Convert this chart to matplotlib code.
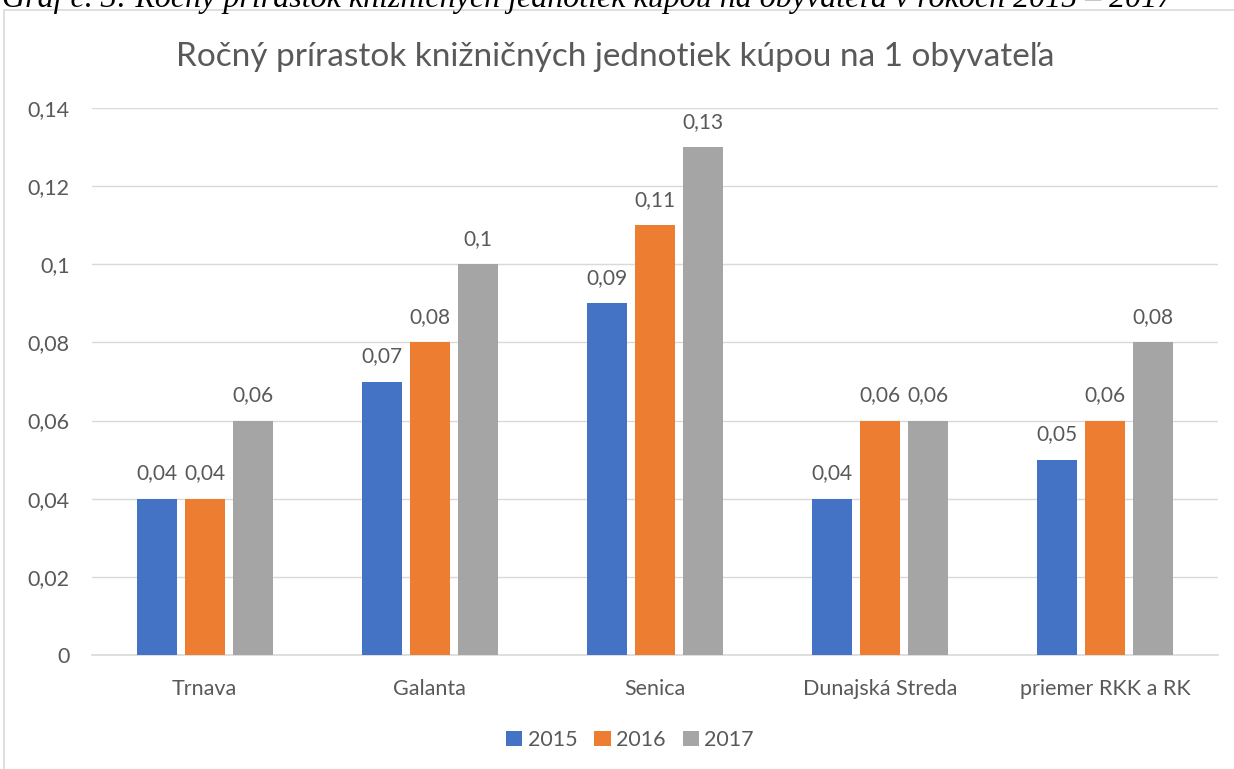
import matplotlib
matplotlib.use("Agg")
import matplotlib.pyplot as plt
import numpy as np
from matplotlib.patches import Rectangle, Patch

categories = ["Trnava", "Galanta", "Senica", "Dunajská Streda", "priemer RKK a RK"]
years = ["2015", "2016", "2017"]
v2015 = [0.04, 0.07, 0.09, 0.04, 0.05]
v2016 = [0.04, 0.08, 0.11, 0.06, 0.06]
v2017 = [0.06, 0.10, 0.13, 0.06, 0.08]
yticks = [0, 0.02, 0.04, 0.06, 0.08, 0.10, 0.12, 0.14]

colors = ["#4472C4", "#ED7D31", "#A5A5A5"]
txt = "#595959"
font = ["Lato", "DejaVu Sans"]
plt.rcParams["font.family"] = font

def fmt(v):
    s = ("%.2f" % v).rstrip("0").rstrip(".")
    return s.replace(".", ",")

fig = plt.figure(figsize=(12.34, 7.69), dpi=100)
W, H = 1234, 769

# outer chart border
fig.patches.append(Rectangle((4 / W, -0.01), 1.2, 1 - 10 / H + 0.01, transform=fig.transFigure,
                             fill=False, edgecolor="#d9d9d9", linewidth=1.2))

# caption at top (cropped in the source image)
fig.text(2 / W, 1 - 7 / H, "Graf č. 3: Ročný prírastok knižničných jednotiek kúpou na obyvateľa v rokoch 2015 – 2017",
         fontsize=23, family=["Liberation Serif", "DejaVu Serif"], style="italic",
         va="baseline", ha="left", color="black")

ax = fig.add_axes([92 / W, 1 - 655 / H, (1218 - 92) / W, (655 - 108) / H])
x = np.arange(len(categories))
bw = 0.178
step = 0.213
series = [v2015, v2016, v2017]
for i, (vals, c, yr) in enumerate(zip(series, colors, years)):
    pos = x + (i - 1) * step
    ax.bar(pos, vals, width=bw, color=c, label=yr, zorder=3)
    for p, v in zip(pos, vals):
        ax.annotate(fmt(v), (p, v), xytext=(0, 11), textcoords="offset points",
                    ha="center", va="bottom", fontsize=15, color=txt)

ax.set_xlim(-0.5, len(categories) - 0.5)
ax.set_ylim(0, 0.14)
ax.set_yticks(yticks)
ax.set_yticklabels([fmt(t) for t in yticks])
ax.set_xticks(x)
ax.set_xticklabels(categories)
ax.tick_params(axis="both", length=0, labelsize=15.5, colors=txt)
ax.tick_params(axis="y", pad=16)
ax.tick_params(axis="x", pad=17)
ax.grid(axis="y", color="#d9d9d9", linewidth=1, zorder=0)
for s in ["top", "right", "left"]:
    ax.spines[s].set_visible(False)
ax.spines["bottom"].set_color("#d9d9d9")
ax.spines["bottom"].set_linewidth(1.2)

fig.text(615 / W, 1 - 57 / H, "Ročný prírastok knižničných jednotiek kúpou na 1 obyvateľa",
         ha="center", va="center", fontsize=24, color=txt)

handles = [Patch(facecolor=c, label=y) for c, y in zip(colors, years)]
fig.legend(handles=handles, loc="center", bbox_to_anchor=(630 / W, 1 - 740 / H), ncol=3,
           frameon=False, fontsize=15.5, handlelength=0.75, handleheight=0.75,
           handletextpad=0.25, columnspacing=0.8, labelcolor=txt)

fig.savefig("out.png", dpi=100)
